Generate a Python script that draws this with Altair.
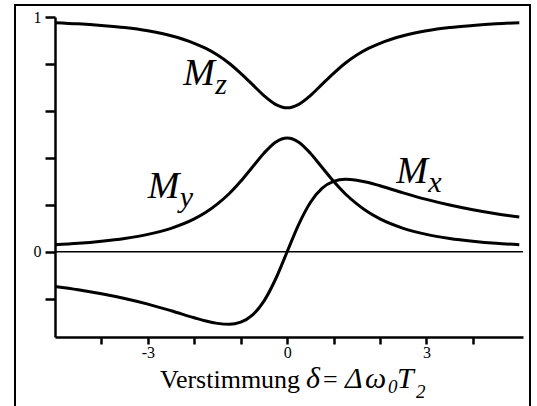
import altair as alt
import pandas as pd

# Detuning delta = Delta omega_0 * T2
delta = [-5, -4.5, -4, -3.5, -3, -2.5, -2, -1.75, -1.5, -1.25, -1, -0.75, -0.5, -0.25,
         0, 0.25, 0.5, 0.75, 1, 1.25, 1.5, 1.75, 2, 2.5, 3, 3.5, 4, 4.5, 5]

# Steady-state magnetization components
m_x = [-0.148, -0.162, -0.179, -0.199, -0.223, -0.251, -0.281, -0.295, -0.305, -0.309,
       -0.300, -0.270, -0.210, -0.117, 0.0, 0.117, 0.210, 0.270, 0.300, 0.309,
       0.305, 0.295, 0.281, 0.251, 0.223, 0.199, 0.179, 0.162, 0.148]
m_y = [0.030, 0.036, 0.045, 0.057, 0.074, 0.100, 0.140, 0.168, 0.204, 0.247,
       0.300, 0.360, 0.420, 0.467, 0.485, 0.467, 0.420, 0.360, 0.300, 0.247,
       0.204, 0.168, 0.140, 0.100, 0.074, 0.057, 0.045, 0.036, 0.030]
m_z = [0.976, 0.971, 0.964, 0.955, 0.941, 0.920, 0.888, 0.866, 0.838, 0.803,
       0.760, 0.713, 0.665, 0.628, 0.613, 0.628, 0.665, 0.713, 0.760, 0.803,
       0.838, 0.866, 0.888, 0.920, 0.941, 0.955, 0.964, 0.971, 0.976]

# Curve labels (main letter + subscript), anchored in data units
label_main = ["M", "M", "M"]
label_sub = ["z", "y", "x"]
label_delta = [-2.24, -3.0, 2.35]
label_value = [0.71, 0.229, 0.293]

x_ticks = [-4, -3, -2, -1, 0, 1, 2, 3, 4]
x_labelled = [-3, 0, 3]
y_ticks = [-0.2, 0, 0.2, 0.4, 0.6, 0.8, 1]
y_labelled = [0, 1]

FONT = "'Liberation Serif', 'Times New Roman', Times, serif"

rows = []
for name, vals in (("Mx", m_x), ("My", m_y), ("Mz", m_z)):
    for d, v in zip(delta, vals):
        rows.append({"delta": d, "M": v, "comp": name})
curves_df = pd.DataFrame(rows)

x_scale = alt.Scale(domain=[-5, 5.08], nice=False, zero=False)
y_scale = alt.Scale(domain=[-0.363, 1.0], nice=False, zero=False)


def label_expr(shown):
    cond = " || ".join(f"datum.value == {v}" for v in shown)
    # plain hyphen for negative numbers
    return (f"({cond}) ? (datum.value < 0 ? '-' + abs(datum.value) : '' + datum.value) : ''")


curves = alt.Chart(curves_df).mark_line(
    color="black", strokeWidth=3, interpolate="monotone"
).encode(
    x=alt.X("delta:Q", scale=x_scale, axis=alt.Axis(
        values=x_ticks, labelExpr=label_expr(x_labelled),
        title=None, grid=False, domainColor="black", domainWidth=2.5,
        tickColor="black", tickWidth=2.5, tickSize=7, labelPadding=0,
        labelFont=FONT, labelFontSize=16, labelColor="black")),
    y=alt.Y("M:Q", scale=y_scale, axis=alt.Axis(
        values=y_ticks, labelExpr=label_expr(y_labelled),
        title=None, grid=False, domainColor="black", domainWidth=2.5,
        tickColor="black", tickWidth=2.5, tickSize=10, labelPadding=4,
        labelFont=FONT, labelFontSize=16, labelColor="black")),
    detail="comp:N",
)

zero_line = alt.Chart(pd.DataFrame({"y0": [0]})).mark_rule(
    color="black", strokeWidth=1.5
).encode(y=alt.Y("y0:Q", scale=y_scale))

labels_df = pd.DataFrame({"x": label_delta, "y": label_value,
                          "main": label_main, "sub": label_sub})
label_main_layer = alt.Chart(labels_df).mark_text(
    font=FONT, fontStyle="italic", fontSize=38, align="left",
    baseline="alphabetic", color="black"
).encode(x=alt.X("x:Q", scale=x_scale), y=alt.Y("y:Q", scale=y_scale), text="main:N")
label_sub_layer = alt.Chart(labels_df).mark_text(
    font=FONT, fontStyle="italic", fontSize=30, align="left",
    baseline="alphabetic", color="black", dx=32, dy=9
).encode(x=alt.X("x:Q", scale=x_scale), y=alt.Y("y:Q", scale=y_scale), text="sub:N")


def title_piece(text, x, y, size=26, italic=False):
    return alt.Chart(pd.DataFrame({"t": [text]})).mark_text(
        font=FONT, fontSize=size, fontStyle="italic" if italic else "normal",
        align="left", baseline="alphabetic", color="black"
    ).encode(x=alt.value(x), y=alt.value(y), text="t:N")


# Axis title "Verstimmung δ= Δω0T2" assembled from styled pieces
title_layers = [
    title_piece("Verstimmung", 105, 371),
    title_piece("δ", 251, 371, size=30, italic=True),
    title_piece("=", 268, 371),
    title_piece("Δ", 290, 371, size=30, italic=True),
    title_piece("ω", 310, 371, size=30, italic=True),
    title_piece("0", 333, 376, size=19, italic=True),
    title_piece("T", 342, 371, size=30, italic=True),
    title_piece("2", 361, 381, size=19, italic=True),
]

frame = alt.Chart(pd.DataFrame({"f": [0]})).mark_rect(
    fillOpacity=0, stroke="black", strokeWidth=2
).encode(x=alt.value(-40), x2=alt.value(475), y=alt.value(-12), y2=alt.value(396))

chart = alt.layer(
    frame, zero_line, curves, label_main_layer, label_sub_layer, *title_layers
).properties(
    width=468, height=320,
    autosize=alt.AutoSizeParams(type="none"),
    padding={"left": 55, "top": 17, "right": 14, "bottom": 69},
    background="white",
).configure_view(stroke=None)

chart.save("out.html", embed_options={"renderer": "svg", "actions": False})
